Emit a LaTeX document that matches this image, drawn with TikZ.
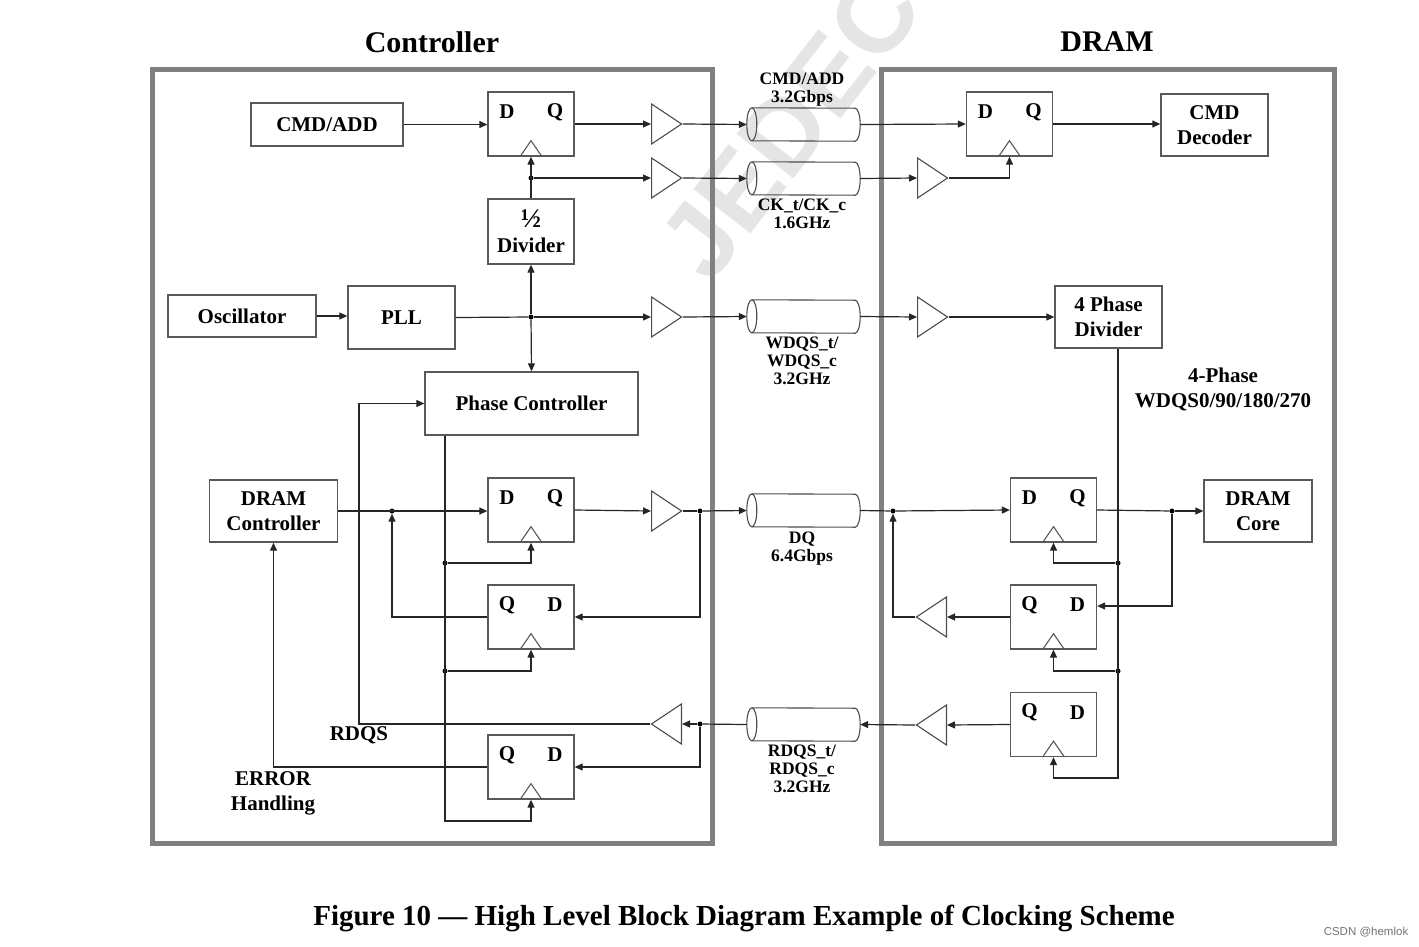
\documentclass[tikz,border=0pt]{standalone}
\usepackage{fontspec}
\setmainfont{Liberation Serif}
\setsansfont{Liberation Sans}
\usetikzlibrary{shapes.geometric,arrows.meta,calc,positioning}

\tikzset{
  blk/.style={draw=black!65, line width=1.3pt, fill=white, inner sep=0pt, align=center, font=\bfseries\fontsize{21}{25}\selectfont},
  ff/.style={blk, minimum width=86pt, minimum height=64pt},
  port/.style={font=\bfseries\fontsize{21}{25}\selectfont, inner sep=0pt},
  clk/.style={draw=black!65, line width=1.1pt},
  buf/.style={draw=black!70, line width=1.1pt, isosceles triangle, isosceles triangle stretches, minimum width=40pt, minimum height=30pt, inner sep=0pt},
  bufl/.style={buf, shape border rotate=180},
  tubebox/.style={rectangle, minimum width=113pt, minimum height=33pt, inner sep=0pt},
  tubeline/.style={draw=black!70, line width=1.1pt},
  lbl/.style={font=\bfseries\fontsize{17.5}{18}\selectfont, align=center, inner sep=0pt},
  txt/.style={font=\bfseries\fontsize{21}{25}\selectfont, align=center, inner sep=0pt},
  head/.style={font=\bfseries\fontsize{30}{30}\selectfont, inner sep=0pt},
  wmark/.style={font=\sffamily\bfseries\fontsize{105}{105}\selectfont, text=black!10, rotate=52},
  wire/.style={draw=black!85, line width=1.2pt},
  arr/.style={wire, -{Triangle[length=8pt,width=7pt]}},
  dot/.style={circle, fill=black, inner sep=0pt, minimum size=5pt},
  chip/.style={draw=black!50, line width=5pt},
}

% flip-flop: name, x, y, left letter, right letter
\newcommand\flop[5]{%
  \node[ff] (#1) at (#2,#3) {};
  \node[port] (#1l) at ($(#1.center)+(-24,-12)$) {#4};
  \node[port] (#1r) at ($(#1.center)+(24,-12)$) {#5};
  \draw[clk] ($(#1.south)+(-11,0)$) -- ++(11,-16) -- ++(11,16);
}
% channel tube: name, x, y
\newcommand\tube[3]{%
  \node[tubebox] (#1) at (#2,#3) {};
  \draw[tubeline] ([xshift=5pt]#1.north west) arc[start angle=90, end angle=270, x radius=5pt, y radius=16.5pt]
    -- ([xshift=-5pt]#1.south east) arc[start angle=-90, end angle=90, x radius=5pt, y radius=16.5pt] -- cycle;
  \draw[tubeline] ([xshift=5pt]#1.north west) arc[start angle=90, end angle=-90, x radius=5pt, y radius=16.5pt];
}

\begin{document}
\begin{tikzpicture}[x=1pt,y=-1pt]
\useasboundingbox (0,0) rectangle (1419,946);
\node[wmark] (jedec) at (790,125) {JEDEC};

\draw[chip] (152,69) rectangle (712,843);
\draw[chip] (881,69) rectangle (1334,843);
\node[head] (tctl) at (432,42) {Controller};
\node[head] (tdram) at (1107,42) {DRAM};

% controller side
\node[blk, minimum width=152pt, minimum height=43pt] (cmd) at (327,124.5) {CMD/ADD};
\flop{ffa}{531}{124}{D}{Q}
\node[buf, anchor=lower side] (bufa) at (651,124) {};
\tube{cyla}{803.5}{124.5}
\node[blk, minimum width=86pt, minimum height=65pt] (div) at (531,231.5) {{\fontsize{27}{25}\selectfont ½}\\Divider};
\node[buf, anchor=lower side] (bufb) at (651,178) {};
\tube{cylb}{803.5}{178.5}
\node[blk, minimum width=148pt, minimum height=42pt] (osc) at (242,316) {Oscillator};
\node[blk, minimum width=107pt, minimum height=63pt] (pll) at (401.5,317.5) {PLL};
\node[buf, anchor=lower side] (bufc) at (651,317) {};
\tube{cylc}{803.5}{316.5}
\node[blk, minimum width=213pt, minimum height=63pt] (phase) at (531.5,403.5) {Phase Controller};
\node[blk, minimum width=128pt, minimum height=62pt] (dramc) at (273.5,511) {DRAM\\Controller};
\flop{ffb}{531}{510}{D}{Q}
\flop{ffc}{531}{617}{Q}{D}
\flop{ffd}{531}{767}{Q}{D}
\node[buf, anchor=lower side] (bufd) at (651,511) {};
\tube{cyld}{803.5}{510.5}
\node[bufl, anchor=lower side] (bufe) at (682,724) {};
\tube{cyle}{803.5}{724.5}

% dram side
\flop{ffe}{1009.5}{124}{D}{Q}
\node[blk, minimum width=107pt, minimum height=62pt] (dec) at (1214.5,125) {CMD\\Decoder};
\node[buf, anchor=lower side] (buff) at (917,178) {};
\node[buf, anchor=lower side] (bufg) at (917,317) {};
\node[blk, minimum width=107pt, minimum height=62pt] (pdiv) at (1108.5,317) {4 Phase\\Divider};
\flop{fff}{1053.5}{510}{D}{Q}
\node[blk, minimum width=108pt, minimum height=62pt] (core) at (1258,511) {DRAM\\Core};
\flop{ffg}{1053.5}{617}{Q}{D}
\flop{ffh}{1053.5}{724.5}{Q}{D}
\node[bufl, anchor=lower side] (bufh) at (947,617) {};
\node[bufl, anchor=lower side] (bufi) at (947,725) {};

% labels
\node[lbl] (la) at (802,90) {CMD/ADD\\3.2Gbps};
\node[lbl] (lb) at (802,214) {CK\_t/CK\_c\\1.6GHz};
\node[lbl] (lc) at (802,361) {WDQS\_t/\\WDQS\_c\\3.2GHz};
\node[lbl] (ld) at (802,549) {DQ\\6.4Gbps};
\node[lbl] (le) at (802,769) {RDQS\_t/\\RDQS\_c\\3.2GHz};
\node[txt] (lph) at (1223,389) {4-Phase\\WDQS0/90/180/270};
\node[txt] (lrd) at (359,735) {RDQS};
\node[txt] (ler) at (273,793) {ERROR\\Handling};

% junctions
\node[dot] (ck) at (531,178) {};
\node[dot] (pl) at (531,317) {};
\node[dot] (pc1) at (445,563) {};
\node[dot] (pc2) at (445,671) {};
\node[dot] (dq1) at (392,511) {};
\node[dot] (dq2) at (700,511) {};
\node[dot] (rq1) at (700,724) {};
\node[dot] (dq3) at (893,511) {};
\node[dot] (dq4) at (1172,511) {};
\node[dot] (ph1) at (1118,563) {};
\node[dot] (ph2) at (1118,671) {};
\coordinate (pcend) at (445,821);
\coordinate (phend) at (1118,778);
\coordinate (rqs) at (359,403.5);

% CMD/ADD path
\draw[arr] (cmd.east) -- (cmd.east -| ffa.west);
\draw[arr] (ffa.east) -- (bufa.lower side);
\draw[arr] (bufa.apex) -- (cyla.west);
\draw[arr] (cyla.east) -- (ffe.west);
\draw[arr] (ffe.east) -- (ffe.east -| dec.west);
% clock
\draw[arr] (div.north) -- (ffa.south);
\draw[arr] (ck) -- (bufb.lower side);
\draw[arr] (bufb.apex) -- (cylb.west);
\draw[arr] (cylb.east) -- (buff.lower side);
\draw[arr] (buff.apex) -| (ffe.south);
\draw[arr] (osc.east) -- (osc.east -| pll.west);
\draw[wire] (pll.east) -- (pl);
\draw[arr] (pl) -- (bufc.lower side);
\draw[arr] (pl) -- (div.south);
\draw[arr] (pl) -- (phase.north);
% WDQS
\draw[arr] (bufc.apex) -- (cylc.west);
\draw[arr] (cylc.east) -- (bufg.lower side);
\draw[arr] (bufg.apex) -- (pdiv.west);
\draw[arr] (pdiv.south -| phend) -- (phend) -| (ffh.south);
\draw[arr] (ph1) -| (fff.south);
\draw[arr] (ph2) -| (ffg.south);
\draw[arr] (phase.south -| pcend) -- (pcend) -| (ffd.south);
\draw[arr] (pc1) -| (ffb.south);
\draw[arr] (pc2) -| (ffc.south);
% DQ
\draw[arr] (dramc.east) -- (dramc.east -| ffb.west);
\draw[arr] (ffc.west) -| (dq1);
\draw[arr] (ffb.east) -- (bufd.lower side);
\draw[wire] (bufd.apex) -- (dq2);
\draw[arr] (dq2) -- (cyld.west);
\draw[arr] (dq2) |- (ffc.east);
\draw[wire] (cyld.east) -- (dq3);
\draw[arr] (dq3) -- (fff.west);
\draw[arr] (ffg.west) -- (bufh.lower side);
\draw[arr] (bufh.apex) -| (dq3);
\draw[wire] (fff.east) -- (dq4);
\draw[arr] (dq4) -- (core.west);
\draw[arr] (dq4) |- ([yshift=11pt]ffg.east);
% RDQS
\draw[arr] (ffh.west) -- (bufi.lower side);
\draw[arr] (bufi.apex) -- (cyle.east);
\draw[wire] (cyle.west) -- (rq1);
\draw[arr] (rq1) -- (bufe.lower side);
\draw[arr] (rq1) |- (ffd.east);
\draw[arr] (bufe.apex) -| (rqs) -- (phase.west);
\draw[arr] (ffd.west) -| (dramc.south);

\node[font=\bfseries\fontsize{29}{29}\selectfont] (fig) at (744,918) {Figure 10 — High Level Block Diagram Example of Clocking Scheme};
\node[font=\sffamily\fontsize{11.5}{11.5}\selectfont, text=black!55] (csdn) at (1366,932) {CSDN @hemlok};
\end{tikzpicture}
\end{document}
